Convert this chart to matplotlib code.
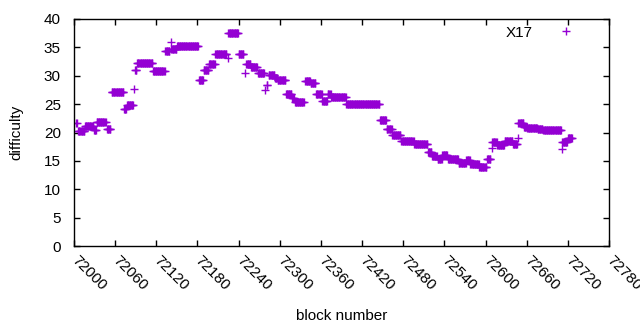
'''
Difficulty per block, X17
'''
import numpy as np
import matplotlib
matplotlib.use("Agg")
import matplotlib.pyplot as plt
from matplotlib.transforms import ScaledTranslation

# runs of constant difficulty: first block, last block, difficulty
run_start = [72003, 72006, 72016, 72029, 72033, 72048, 72055, 72073, 72077, 72088,
             72089, 72092, 72115, 72133, 72141, 72142, 72150, 72182, 72189, 72197,
             72206, 72224, 72225, 72240, 72249, 72251, 72258, 72268, 72279, 72281,
             72284, 72293, 72297, 72309, 72318, 72322, 72337, 72345, 72353, 72362,
             72370, 72375, 72397, 72446, 72456, 72464, 72477, 72496, 72516, 72522,
             72530, 72537, 72545, 72561, 72572, 72578, 72591, 72602, 72609, 72610,
             72617, 72628, 72640, 72647, 72648, 72656, 72661, 72676, 72684, 72711,
             72712, 72720]
run_end = [72004, 72015, 72028, 72032, 72046, 72053, 72072, 72076, 72086, 72088,
           72091, 72114, 72132, 72139, 72141, 72149, 72181, 72188, 72196, 72205,
           72222, 72224, 72239, 72247, 72249, 72257, 72267, 72277, 72279, 72282,
           72292, 72296, 72308, 72317, 72321, 72335, 72344, 72352, 72361, 72369,
           72374, 72396, 72445, 72455, 72463, 72476, 72495, 72515, 72521, 72529,
           72536, 72544, 72560, 72571, 72577, 72590, 72601, 72607, 72609, 72616,
           72627, 72639, 72646, 72647, 72655, 72660, 72675, 72683, 72710, 72711,
           72719, 72726]
run_diff = [21.6, 20.3, 21.1, 20.5, 21.8, 20.6, 27.1, 24.2, 24.8, 27.6,
            31.1, 32.2, 30.8, 34.3, 36.0, 34.8, 35.3, 29.2, 31.1, 32.0,
            33.8, 33.1, 37.6, 33.8, 30.4, 32.0, 31.5, 30.4, 27.5, 28.3,
            30.2, 29.6, 29.2, 26.7, 26.0, 25.3, 29.1, 28.8, 26.8, 25.6,
            26.8, 26.2, 25.0, 22.2, 20.7, 19.6, 18.5, 17.9, 16.6, 15.8,
            15.4, 16.0, 15.3, 14.7, 15.2, 14.4, 13.9, 15.3, 17.3, 18.3,
            17.8, 18.5, 18.0, 19.0, 21.6, 21.0, 20.8, 20.6, 20.4, 17.1,
            18.3, 19.0]

x_ticks = list(range(72000, 72781, 60))
y_ticks = list(range(0, 41, 5))


def expandRuns(starts, ends, values):
    blocks, diffs = [], []
    for s, e, v in zip(starts, ends, values):
        b = np.arange(s, e + 1)
        blocks.append(b)
        diffs.append(np.full(len(b), v))
    return np.concatenate(blocks), np.concatenate(diffs)


def main():
    plt.rcParams['font.family'] = ['Liberation Sans', 'DejaVu Sans']
    plt.rcParams['font.size'] = 11
    block, diff = expandRuns(run_start, run_end, run_diff)

    fig = plt.figure(figsize=(6.4, 3.3), dpi=100)
    ax = fig.add_axes([74 / 640, 84 / 330, 535 / 640, 227 / 330])
    ax.plot(block, diff, linestyle="none", marker="+", ms=5.5, mew=1.0,
            color="#9400D3", label="X17")

    ax.set_xlim(72000, 72780)
    ax.set_ylim(0, 40)
    ax.set_xticks(x_ticks)
    ax.set_yticks(y_ticks)
    ax.set_xticklabels([str(t) for t in x_ticks], rotation=-45, ha="left",
                       va="top", rotation_mode="anchor")
    ax.tick_params(direction="in", length=4, width=1, top=True, right=True,
                   colors="black", labelsize=11)
    ax.tick_params(axis="x", pad=5)
    ax.tick_params(axis="y", pad=9.5)
    shift = ScaledTranslation(5 / 100, 0, fig.dpi_scale_trans)
    for lab in ax.get_xticklabels():
        lab.set_transform(lab.get_transform() + shift)
    for s in ax.spines.values():
        s.set_linewidth(1)

    ax.set_xlabel("block number", labelpad=12)
    ax.set_ylabel("difficulty")
    ax.yaxis.set_label_coords(-0.094, 0.5)
    ax.legend(loc="upper right", markerfirst=False, frameon=False,
              handlelength=2.5, handletextpad=0.9, borderaxespad=0.3,
              bbox_to_anchor=(0.975, 1.018))

    fig.savefig("out.png", dpi=100)


if __name__ == "__main__":
    main()
